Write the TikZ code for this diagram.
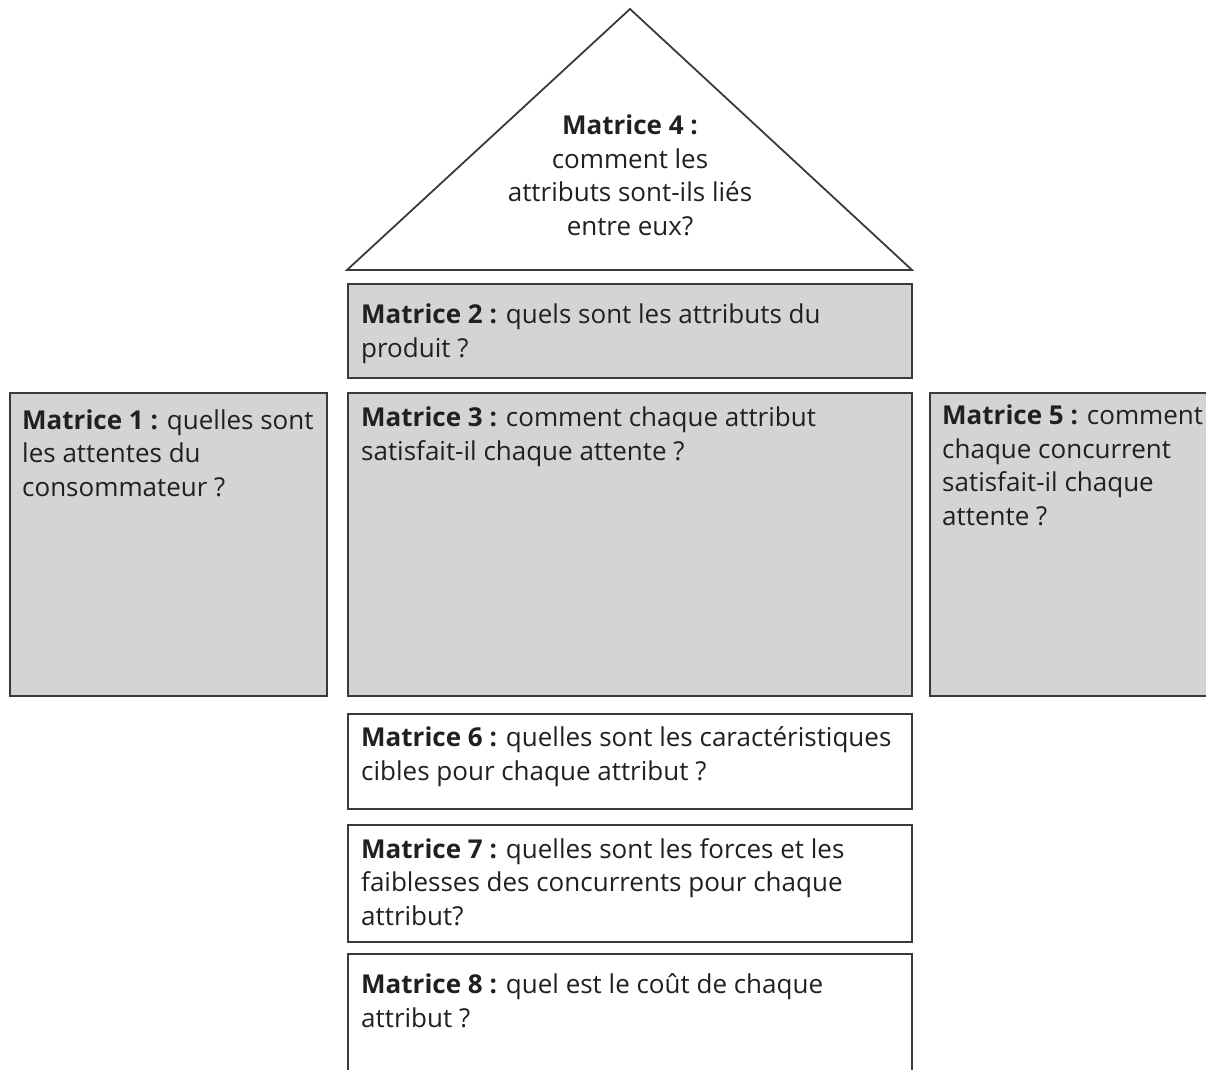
\documentclass[tikz,border=0pt]{standalone}
\usepackage{fontspec}
\setmainfont{Open Sans}
\definecolor{ink}{HTML}{231F20}
\definecolor{rule}{HTML}{3A3A3C}
\definecolor{panel}{HTML}{D3D4D6}
\begin{document}
\begin{tikzpicture}[x=1pt,y=-1pt,
  frame/.style={draw=rule, line width=1.8pt},
  panelbox/.style={frame, fill=panel, anchor=north west, inner sep=0pt, outer sep=0pt},
  plainbox/.style={frame, fill=white, anchor=north west, inner sep=0pt, outer sep=0pt},
  % multi-line labels are placed by the baseline of their last line
  label/.style={anchor=base west, inner sep=0pt, align=left, text=ink,
    font=\fontsize{26}{33.5}\selectfont},
  rooflabel/.style={label, anchor=base, align=center},
]
\useasboundingbox (0,0) rectangle (1206,1069);

% roof: how the attributes relate to each other
\coordinate (roofL) at (347,270);
\coordinate (roofT) at (630,9);
\coordinate (roofR) at (912,270);
\draw[frame, line join=miter] (roofL) -- (roofT) -- (roofR) -- cycle;
\node[rooflabel] (m4) at (630,235)
  {\textbf{Matrice 4 :}\\comment les\\attributs sont-ils liés\\entre eux?};

% shaded rooms of the house
\node[panelbox, minimum width=564pt, minimum height=94pt] (b2) at (348,284) {};
\node[panelbox, minimum width=317pt, minimum height=303pt] (b1) at (10,393) {};
\node[panelbox, minimum width=564pt, minimum height=303pt] (b3) at (348,393) {};
\node[panelbox, minimum width=300pt, minimum height=303pt] (b5) at (930,393) {};

% white floors below
\node[plainbox, minimum width=564pt, minimum height=95pt] (b6) at (348,714) {};
\node[plainbox, minimum width=564pt, minimum height=117pt] (b7) at (348,825) {};
\node[plainbox, minimum width=564pt, minimum height=140pt] (b8) at (348,954) {};

% texts
\node[label] (m2) at (361,357) {\textbf{Matrice 2 :} quels sont les attributs du\\produit ?};
\node[label] (m1) at (22,496) {\textbf{Matrice 1 :} quelles sont\\les attentes du\\consommateur ?};
\node[label] (m3) at (361,460) {\textbf{Matrice 3 :} comment chaque attribut\\satisfait-il chaque attente ?};
\node[label] (m5) at (942,525) {\textbf{Matrice 5 :} comment\\chaque concurrent\\satisfait-il chaque\\attente ?};
\node[label] (m6) at (361,780) {\textbf{Matrice 6 :} quelles sont les caractéristiques\\cibles pour chaque attribut ?};
\node[label] (m7) at (361,925) {\textbf{Matrice 7 :} quelles sont les forces et les\\faiblesses des concurrents pour chaque\\attribut?};
\node[label] (m8) at (361,1027) {\textbf{Matrice 8 :} quel est le coût de chaque\\attribut ?};
\end{tikzpicture}
\end{document}
